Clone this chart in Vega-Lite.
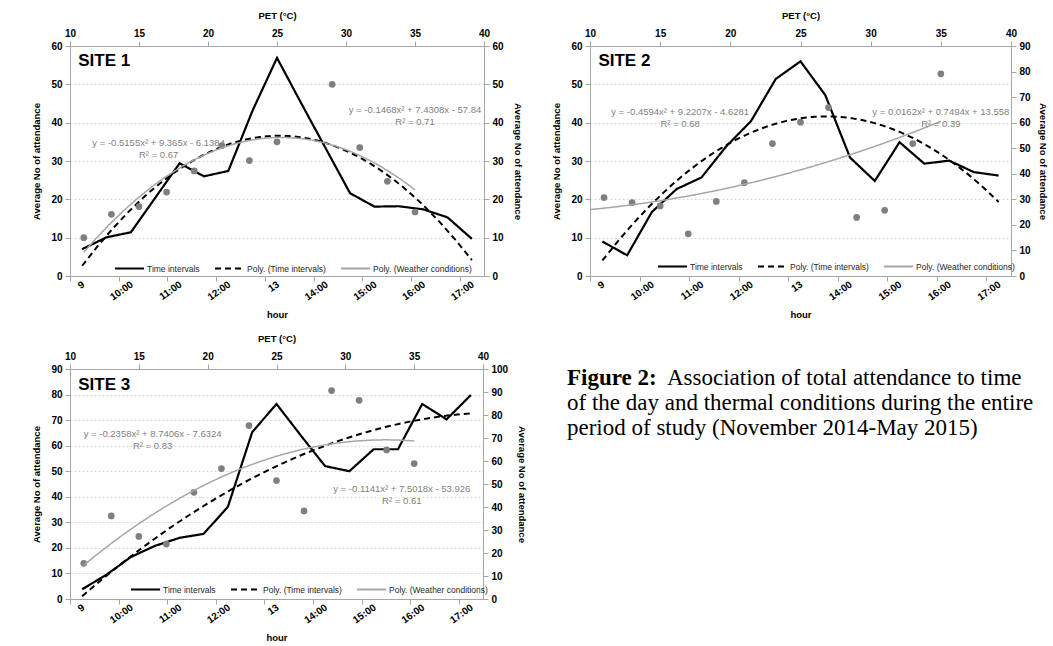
{
  "$schema": "https://vega.github.io/schema/vega-lite/v6.json",
  "background": "white",
  "padding": {"left": 31, "top": 10, "right": 0, "bottom": 0},
  "datasets": {
    "s1_time": [
      {"hour": 9.25, "value": 7.0}, {"hour": 9.75, "value": 10.1}, {"hour": 10.25, "value": 11.4}, {"hour": 10.75, "value": 20.4},
      {"hour": 11.25, "value": 29.4}, {"hour": 11.75, "value": 26.0}, {"hour": 12.25, "value": 27.4}, {"hour": 12.75, "value": 43.2},
      {"hour": 13.25, "value": 56.9}, {"hour": 13.75, "value": 45.0}, {"hour": 14.25, "value": 33.3}, {"hour": 14.75, "value": 21.6},
      {"hour": 15.25, "value": 18.1}, {"hour": 15.75, "value": 18.2}, {"hour": 16.25, "value": 17.4}, {"hour": 16.75, "value": 15.3},
      {"hour": 17.25, "value": 9.7}
    ],
    "s1_weather": [
      {"pet": 11, "value": 10.0}, {"pet": 13, "value": 16.1}, {"pet": 15, "value": 18.1}, {"pet": 17, "value": 21.9},
      {"pet": 19, "value": 27.4}, {"pet": 21, "value": 34.0}, {"pet": 23, "value": 30.1}, {"pet": 25, "value": 35.0},
      {"pet": 29, "value": 50.0}, {"pet": 31, "value": 33.5}, {"pet": 33, "value": 24.7}, {"pet": 35, "value": 16.7}
    ],
    "s2_time": [
      {"hour": 9.25, "value": 9.0}, {"hour": 9.75, "value": 5.4}, {"hour": 10.25, "value": 16.7}, {"hour": 10.75, "value": 22.7},
      {"hour": 11.25, "value": 25.7}, {"hour": 11.75, "value": 33.8}, {"hour": 12.25, "value": 40.4}, {"hour": 12.75, "value": 51.4},
      {"hour": 13.25, "value": 56.0}, {"hour": 13.75, "value": 47.2}, {"hour": 14.25, "value": 30.9}, {"hour": 14.75, "value": 24.8},
      {"hour": 15.25, "value": 34.9}, {"hour": 15.75, "value": 29.3}, {"hour": 16.25, "value": 30.1}, {"hour": 16.75, "value": 27.1},
      {"hour": 17.25, "value": 26.2}
    ],
    "s2_weather": [
      {"pet": 11, "value": 30.7}, {"pet": 13, "value": 28.7}, {"pet": 15, "value": 27.4}, {"pet": 17, "value": 16.5},
      {"pet": 19, "value": 29.2}, {"pet": 21, "value": 36.5}, {"pet": 23, "value": 51.8}, {"pet": 25, "value": 60.2},
      {"pet": 27, "value": 65.9}, {"pet": 29, "value": 22.9}, {"pet": 31, "value": 25.7}, {"pet": 33, "value": 51.8},
      {"pet": 35, "value": 79.1}
    ],
    "s3_time": [
      {"hour": 9.25, "value": 3.8}, {"hour": 9.75, "value": 9.5}, {"hour": 10.25, "value": 16.4}, {"hour": 10.75, "value": 20.8},
      {"hour": 11.25, "value": 23.9}, {"hour": 11.75, "value": 25.5}, {"hour": 12.25, "value": 36.1}, {"hour": 12.75, "value": 65.3},
      {"hour": 13.25, "value": 76.3}, {"hour": 13.75, "value": 64.0}, {"hour": 14.25, "value": 52.0}, {"hour": 14.75, "value": 50.0},
      {"hour": 15.25, "value": 58.6}, {"hour": 15.75, "value": 58.6}, {"hour": 16.25, "value": 76.3}, {"hour": 16.75, "value": 70.3},
      {"hour": 17.25, "value": 79.8}
    ],
    "s3_weather": [
      {"pet": 11, "value": 15.5}, {"pet": 13, "value": 36.1}, {"pet": 15, "value": 27.2}, {"pet": 17, "value": 23.9},
      {"pet": 19, "value": 46.4}, {"pet": 21, "value": 56.7}, {"pet": 23, "value": 75.4}, {"pet": 25, "value": 51.5},
      {"pet": 27, "value": 38.3}, {"pet": 29, "value": 90.6}, {"pet": 31, "value": 86.4}, {"pet": 33, "value": 64.8},
      {"pet": 35, "value": 58.9}
    ]
  },
  "config": {
    "view": {"stroke": null},
    "font": "Liberation Sans",
    "axis": {
      "labelFont": "Liberation Sans", "labelFontWeight": "bold", "labelFontSize": 10, "labelColor": "#000000",
      "titleFont": "Liberation Sans", "titleFontWeight": "bold", "titleFontSize": 9.5, "titleColor": "#000000",
      "domainColor": "#a6a6a6", "tickColor": "#a6a6a6", "tickSize": 5, "grid": false,
      "labelFlush": false, "labelOverlap": false
    },
    "legend": {
      "labelFont": "Liberation Sans", "labelFontSize": 8.5, "labelColor": "#262626",
      "symbolStrokeWidth": 2, "symbolSize": 840, "symbolType": "stroke", "labelOffset": 2, "columnPadding": 11
    },
    "text": {"font": "Liberation Sans"}
  },
  "spacing": 13,
  "resolve": {"scale": {"color": "independent", "strokeDash": "independent"}},
  "vconcat": [
    {
      "spacing": 28,
      "resolve": {"scale": {"color": "independent", "strokeDash": "independent"}},
      "hconcat": [
        {
          "width": 414, "height": 230,
          "resolve": {"scale": {"x": "independent", "y": "independent"}},
          "layer": [
            {
              "layer": [
                {
                  "data": {"name": "s1_time"},
                  "mark": {"type": "line", "strokeWidth": 2.2},
                  "encoding": {
                    "x": {"field": "hour", "type": "quantitative", "scale": {"domain": [9, 17.5], "nice": false, "zero": false},
                      "axis": {"values": [9, 10, 11, 12, 13, 14, 15, 16, 17], "tickCount": 20, "labelExpr": "datum.value == 9 ? '9' : datum.value == 13 ? '13' : datum.value + ':00'", "labelAngle": -35, "labelAlign": "right", "labelBaseline": "middle", "labelOffset": 13, "labelPadding": 2, "labelOverlap": false, "title": "hour", "titlePadding": 8}},
                    "y": {"field": "value", "type": "quantitative", "scale": {"domain": [0, 60], "nice": false},
                      "axis": {"orient": "left", "values": [0, 10, 20, 30, 40, 50, 60], "tickCount": 20, "labelOverlap": false, "title": "Average No of attendance", "titlePadding": 9, "labelPadding": 3, "grid": true, "gridColor": "#d9d9d9", "gridDash": [2, 2]}},
                    "color": {"datum": "Time intervals", "type": "nominal",
                      "scale": {"domain": ["Time intervals", "Poly. (Time intervals)", "Poly. (Weather conditions)"], "range": ["#000000", "#000000", "#a6a6a6"]},
                      "legend": {"title": null, "orient": "none", "legendX": 44, "legendY": 207, "direction": "horizontal", "columns": 3}},
                    "strokeDash": {"datum": "Time intervals", "type": "nominal",
                      "scale": {"domain": ["Time intervals", "Poly. (Time intervals)", "Poly. (Weather conditions)"], "range": [[1, 0], [6, 4], [1, 0]]},
                      "legend": {"title": null, "orient": "none", "legendX": 44, "legendY": 207, "direction": "horizontal", "columns": 3}}
                  }
                },
                {
                  "data": {"name": "s1_time"},
                  "transform": [{"regression": "value", "on": "hour", "method": "poly", "order": 2}],
                  "mark": {"type": "line", "strokeWidth": 2},
                  "encoding": {
                    "x": {"field": "hour", "type": "quantitative"},
                    "y": {"field": "value", "type": "quantitative"},
                    "color": {"datum": "Poly. (Time intervals)", "type": "nominal"},
                    "strokeDash": {"datum": "Poly. (Time intervals)", "type": "nominal"}
                  }
                },
                {
                  "data": {"values": [{}]},
                  "mark": {"type": "text", "text": "SITE 1", "fontSize": 17, "fontWeight": "bold", "align": "left", "baseline": "middle", "color": "#000000"},
                  "encoding": {"x": {"datum": 9.17, "type": "quantitative"}, "y": {"datum": 56.0, "type": "quantitative"}}
                },
                {
                  "data": {"values": [{}]},
                  "mark": {"type": "text", "text": ["y = -0.5155x² + 9.365x - 6.1384", "R² = 0.67"], "fontSize": 9.5, "lineHeight": 12, "align": "center", "baseline": "middle", "color": "#7f7f7f"},
                  "encoding": {"x": {"datum": 10.82, "type": "quantitative"}, "y": {"datum": 34.8, "type": "quantitative"}}
                }
              ]
            },
            {
              "layer": [
                {
                  "data": {"name": "s1_weather"},
                  "mark": {"type": "point", "filled": true, "size": 45, "color": "#7f7f7f", "opacity": 1},
                  "encoding": {
                    "x": {"field": "pet", "type": "quantitative", "scale": {"domain": [10, 40], "nice": false, "zero": false},
                      "axis": {"orient": "top", "values": [10, 15, 20, 25, 30, 35, 40], "tickCount": 20, "labelOverlap": false, "title": "PET (°C)", "titlePadding": 8, "labelPadding": 3}},
                    "y": {"field": "value", "type": "quantitative", "scale": {"domain": [0, 60], "nice": false},
                      "axis": {"orient": "right", "values": [0, 10, 20, 30, 40, 50, 60], "tickCount": 20, "labelOverlap": false, "title": "Average No of attendance", "titlePadding": 9, "labelPadding": 3}}
                  }
                },
                {
                  "data": {"name": "s1_weather"},
                  "transform": [{"regression": "value", "on": "pet", "method": "poly", "order": 2}],
                  "mark": {"type": "line", "strokeWidth": 1.5},
                  "encoding": {
                    "x": {"field": "pet", "type": "quantitative"},
                    "y": {"field": "value", "type": "quantitative"},
                    "color": {"datum": "Poly. (Weather conditions)", "type": "nominal"},
                    "strokeDash": {"datum": "Poly. (Weather conditions)", "type": "nominal"}
                  }
                },
                {
                  "data": {"values": [{}]},
                  "mark": {"type": "text", "text": ["y = -0.1468x² + 7.4308x - 57.84", "R² = 0.71"], "fontSize": 9.5, "lineHeight": 12, "align": "center", "baseline": "middle", "color": "#7f7f7f"},
                  "encoding": {"x": {"datum": 35.0, "type": "quantitative"}, "y": {"datum": 43.4, "type": "quantitative"}}
                }
              ]
            }
          ]
        },
        {
          "width": 421, "height": 230,
          "resolve": {"scale": {"x": "independent", "y": "independent"}},
          "layer": [
            {
              "layer": [
                {
                  "data": {"name": "s2_time"},
                  "mark": {"type": "line", "strokeWidth": 2.2},
                  "encoding": {
                    "x": {"field": "hour", "type": "quantitative", "scale": {"domain": [9, 17.5], "nice": false, "zero": false},
                      "axis": {"values": [9, 10, 11, 12, 13, 14, 15, 16, 17], "tickCount": 20, "labelExpr": "datum.value == 9 ? '9' : datum.value == 13 ? '13' : datum.value + ':00'", "labelAngle": -35, "labelAlign": "right", "labelBaseline": "middle", "labelOffset": 13, "labelPadding": 2, "labelOverlap": false, "title": "hour", "titlePadding": 8}},
                    "y": {"field": "value", "type": "quantitative", "scale": {"domain": [0, 60], "nice": false},
                      "axis": {"orient": "left", "values": [0, 10, 20, 30, 40, 50, 60], "tickCount": 20, "labelOverlap": false, "title": "Average No of attendance", "titlePadding": 9, "labelPadding": 3, "grid": true, "gridColor": "#d9d9d9", "gridDash": [2, 2]}},
                    "color": {"datum": "Time intervals", "type": "nominal",
                      "scale": {"domain": ["Time intervals", "Poly. (Time intervals)", "Poly. (Weather conditions)"], "range": ["#000000", "#000000", "#a6a6a6"]},
                      "legend": {"title": null, "orient": "none", "legendX": 67, "legendY": 205, "direction": "horizontal", "columns": 3}},
                    "strokeDash": {"datum": "Time intervals", "type": "nominal",
                      "scale": {"domain": ["Time intervals", "Poly. (Time intervals)", "Poly. (Weather conditions)"], "range": [[1, 0], [6, 4], [1, 0]]},
                      "legend": {"title": null, "orient": "none", "legendX": 67, "legendY": 205, "direction": "horizontal", "columns": 3}}
                  }
                },
                {
                  "data": {"name": "s2_time"},
                  "transform": [{"regression": "value", "on": "hour", "method": "poly", "order": 2}],
                  "mark": {"type": "line", "strokeWidth": 2},
                  "encoding": {
                    "x": {"field": "hour", "type": "quantitative"},
                    "y": {"field": "value", "type": "quantitative"},
                    "color": {"datum": "Poly. (Time intervals)", "type": "nominal"},
                    "strokeDash": {"datum": "Poly. (Time intervals)", "type": "nominal"}
                  }
                },
                {
                  "data": {"values": [{}]},
                  "mark": {"type": "text", "text": "SITE 2", "fontSize": 17, "fontWeight": "bold", "align": "left", "baseline": "middle", "color": "#000000"},
                  "encoding": {"x": {"datum": 9.17, "type": "quantitative"}, "y": {"datum": 56.2, "type": "quantitative"}}
                },
                {
                  "data": {"values": [{}]},
                  "mark": {"type": "text", "text": ["y = -0.4594x² + 9.2207x - 4.6281", "R² = 0.68"], "fontSize": 9.5, "lineHeight": 12, "align": "center", "baseline": "middle", "color": "#7f7f7f"},
                  "encoding": {"x": {"datum": 10.82, "type": "quantitative"}, "y": {"datum": 42.7, "type": "quantitative"}}
                }
              ]
            },
            {
              "layer": [
                {
                  "data": {"name": "s2_weather"},
                  "mark": {"type": "point", "filled": true, "size": 45, "color": "#7f7f7f", "opacity": 1},
                  "encoding": {
                    "x": {"field": "pet", "type": "quantitative", "scale": {"domain": [10, 40], "nice": false, "zero": false},
                      "axis": {"orient": "top", "values": [10, 15, 20, 25, 30, 35, 40], "tickCount": 20, "labelOverlap": false, "title": "PET (°C)", "titlePadding": 8, "labelPadding": 3}},
                    "y": {"field": "value", "type": "quantitative", "scale": {"domain": [0, 90], "nice": false},
                      "axis": {"orient": "right", "values": [0, 10, 20, 30, 40, 50, 60, 70, 80, 90], "tickCount": 20, "labelOverlap": false, "title": "Average No of attendance", "titlePadding": 7, "labelPadding": 3}}
                  }
                },
                {
                  "data": {"name": "s2_weather"},
                  "transform": [{"regression": "value", "on": "pet", "method": "poly", "order": 2, "extent": [10, 35]}],
                  "mark": {"type": "line", "strokeWidth": 1.5},
                  "encoding": {
                    "x": {"field": "pet", "type": "quantitative"},
                    "y": {"field": "value", "type": "quantitative"},
                    "color": {"datum": "Poly. (Weather conditions)", "type": "nominal"},
                    "strokeDash": {"datum": "Poly. (Weather conditions)", "type": "nominal"}
                  }
                },
                {
                  "data": {"values": [{}]},
                  "mark": {"type": "text", "text": ["y = 0.0162x² + 0.7494x + 13.558", "R² = 0.39"], "fontSize": 9.5, "lineHeight": 12, "align": "center", "baseline": "middle", "color": "#7f7f7f"},
                  "encoding": {"x": {"datum": 35.0, "type": "quantitative"}, "y": {"datum": 64.0, "type": "quantitative"}}
                }
              ]
            }
          ]
        }
      ]
    },
    {
      "spacing": 40,
      "resolve": {"scale": {"color": "independent", "strokeDash": "independent"}},
      "hconcat": [
        {
          "width": 413, "height": 230,
          "resolve": {"scale": {"x": "independent", "y": "independent"}},
          "layer": [
            {
              "layer": [
                {
                  "data": {"name": "s3_time"},
                  "mark": {"type": "line", "strokeWidth": 2.2},
                  "encoding": {
                    "x": {"field": "hour", "type": "quantitative", "scale": {"domain": [9, 17.5], "nice": false, "zero": false},
                      "axis": {"values": [9, 10, 11, 12, 13, 14, 15, 16, 17], "tickCount": 20, "labelExpr": "datum.value == 9 ? '9' : datum.value == 13 ? '13' : datum.value + ':00'", "labelAngle": -35, "labelAlign": "right", "labelBaseline": "middle", "labelOffset": 13, "labelPadding": 2, "labelOverlap": false, "title": "hour", "titlePadding": 8}},
                    "y": {"field": "value", "type": "quantitative", "scale": {"domain": [0, 90], "nice": false},
                      "axis": {"orient": "left", "values": [0, 10, 20, 30, 40, 50, 60, 70, 80, 90], "tickCount": 20, "labelOverlap": false, "title": "Average No of attendance", "titlePadding": 9, "labelPadding": 3, "grid": true, "gridColor": "#d9d9d9", "gridDash": [2, 2]}},
                    "color": {"datum": "Time intervals", "type": "nominal",
                      "scale": {"domain": ["Time intervals", "Poly. (Time intervals)", "Poly. (Weather conditions)"], "range": ["#000000", "#000000", "#a6a6a6"]},
                      "legend": {"title": null, "orient": "none", "legendX": 60, "legendY": 205, "direction": "horizontal", "columns": 3}},
                    "strokeDash": {"datum": "Time intervals", "type": "nominal",
                      "scale": {"domain": ["Time intervals", "Poly. (Time intervals)", "Poly. (Weather conditions)"], "range": [[1, 0], [6, 4], [1, 0]]},
                      "legend": {"title": null, "orient": "none", "legendX": 60, "legendY": 205, "direction": "horizontal", "columns": 3}}
                  }
                },
                {
                  "data": {"name": "s3_time"},
                  "transform": [{"regression": "value", "on": "hour", "method": "poly", "order": 2}],
                  "mark": {"type": "line", "strokeWidth": 2},
                  "encoding": {
                    "x": {"field": "hour", "type": "quantitative"},
                    "y": {"field": "value", "type": "quantitative"},
                    "color": {"datum": "Poly. (Time intervals)", "type": "nominal"},
                    "strokeDash": {"datum": "Poly. (Time intervals)", "type": "nominal"}
                  }
                },
                {
                  "data": {"values": [{}]},
                  "mark": {"type": "text", "text": "SITE 3", "fontSize": 17, "fontWeight": "bold", "align": "left", "baseline": "middle", "color": "#000000"},
                  "encoding": {"x": {"datum": 9.17, "type": "quantitative"}, "y": {"datum": 83.8, "type": "quantitative"}}
                },
                {
                  "data": {"values": [{}]},
                  "mark": {"type": "text", "text": ["y = -0.2358x² + 8.7406x - 7.6324", "R² = 0.83"], "fontSize": 9.5, "lineHeight": 12, "align": "center", "baseline": "middle", "color": "#7f7f7f"},
                  "encoding": {"x": {"datum": 10.7, "type": "quantitative"}, "y": {"datum": 64.5, "type": "quantitative"}}
                }
              ]
            },
            {
              "layer": [
                {
                  "data": {"name": "s3_weather"},
                  "mark": {"type": "point", "filled": true, "size": 45, "color": "#7f7f7f", "opacity": 1},
                  "encoding": {
                    "x": {"field": "pet", "type": "quantitative", "scale": {"domain": [10, 40], "nice": false, "zero": false},
                      "axis": {"orient": "top", "values": [10, 15, 20, 25, 30, 35, 40], "tickCount": 20, "labelOverlap": false, "title": "PET (°C)", "titlePadding": 8, "labelPadding": 3}},
                    "y": {"field": "value", "type": "quantitative", "scale": {"domain": [0, 100], "nice": false},
                      "axis": {"orient": "right", "values": [0, 10, 20, 30, 40, 50, 60, 70, 80, 90, 100], "tickCount": 20, "labelOverlap": false, "title": "Average No of attendance", "titlePadding": 9, "labelPadding": 3}}
                  }
                },
                {
                  "data": {"name": "s3_weather"},
                  "transform": [{"regression": "value", "on": "pet", "method": "poly", "order": 2}],
                  "mark": {"type": "line", "strokeWidth": 1.5},
                  "encoding": {
                    "x": {"field": "pet", "type": "quantitative"},
                    "y": {"field": "value", "type": "quantitative"},
                    "color": {"datum": "Poly. (Weather conditions)", "type": "nominal"},
                    "strokeDash": {"datum": "Poly. (Weather conditions)", "type": "nominal"}
                  }
                },
                {
                  "data": {"values": [{}]},
                  "mark": {"type": "text", "text": ["y = -0.1141x² + 7.5018x - 53.926", "R² = 0.61"], "fontSize": 9.5, "lineHeight": 12, "align": "center", "baseline": "middle", "color": "#7f7f7f"},
                  "encoding": {"x": {"datum": 34.1, "type": "quantitative"}, "y": {"datum": 48.0, "type": "quantitative"}}
                }
              ]
            }
          ]
        },
        {
          "width": 480, "height": 110,
          "data": {"values": [{}]},
          "layer": [
            {
              "mark": {"type": "text", "text": "Figure 2:", "font": "Liberation Serif", "fontSize": 23, "fontWeight": "bold", "align": "left", "baseline": "middle", "color": "#000000"},
              "encoding": {
                "x": {"datum": 0, "type": "quantitative", "scale": {"domain": [0, 1]}, "axis": null},
                "y": {"datum": 1, "type": "quantitative", "scale": {"domain": [1, 3], "range": [8.5, 58.8]}, "axis": null}
              }
            },
            {
              "mark": {"type": "text", "text": "Association of total attendance to time", "font": "Liberation Serif", "fontSize": 23, "align": "left", "baseline": "middle", "dx": 100, "color": "#000000"},
              "encoding": {"x": {"datum": 0, "type": "quantitative"}, "y": {"datum": 1, "type": "quantitative"}}
            },
            {
              "mark": {"type": "text", "text": "of the day and thermal conditions during the entire", "font": "Liberation Serif", "fontSize": 23, "align": "left", "baseline": "middle", "color": "#000000"},
              "encoding": {"x": {"datum": 0, "type": "quantitative"}, "y": {"datum": 2, "type": "quantitative"}}
            },
            {
              "mark": {"type": "text", "text": "period of study (November 2014-May 2015)", "font": "Liberation Serif", "fontSize": 23, "align": "left", "baseline": "middle", "color": "#000000"},
              "encoding": {"x": {"datum": 0, "type": "quantitative"}, "y": {"datum": 3, "type": "quantitative"}}
            }
          ]
        }
      ]
    }
  ]
}
